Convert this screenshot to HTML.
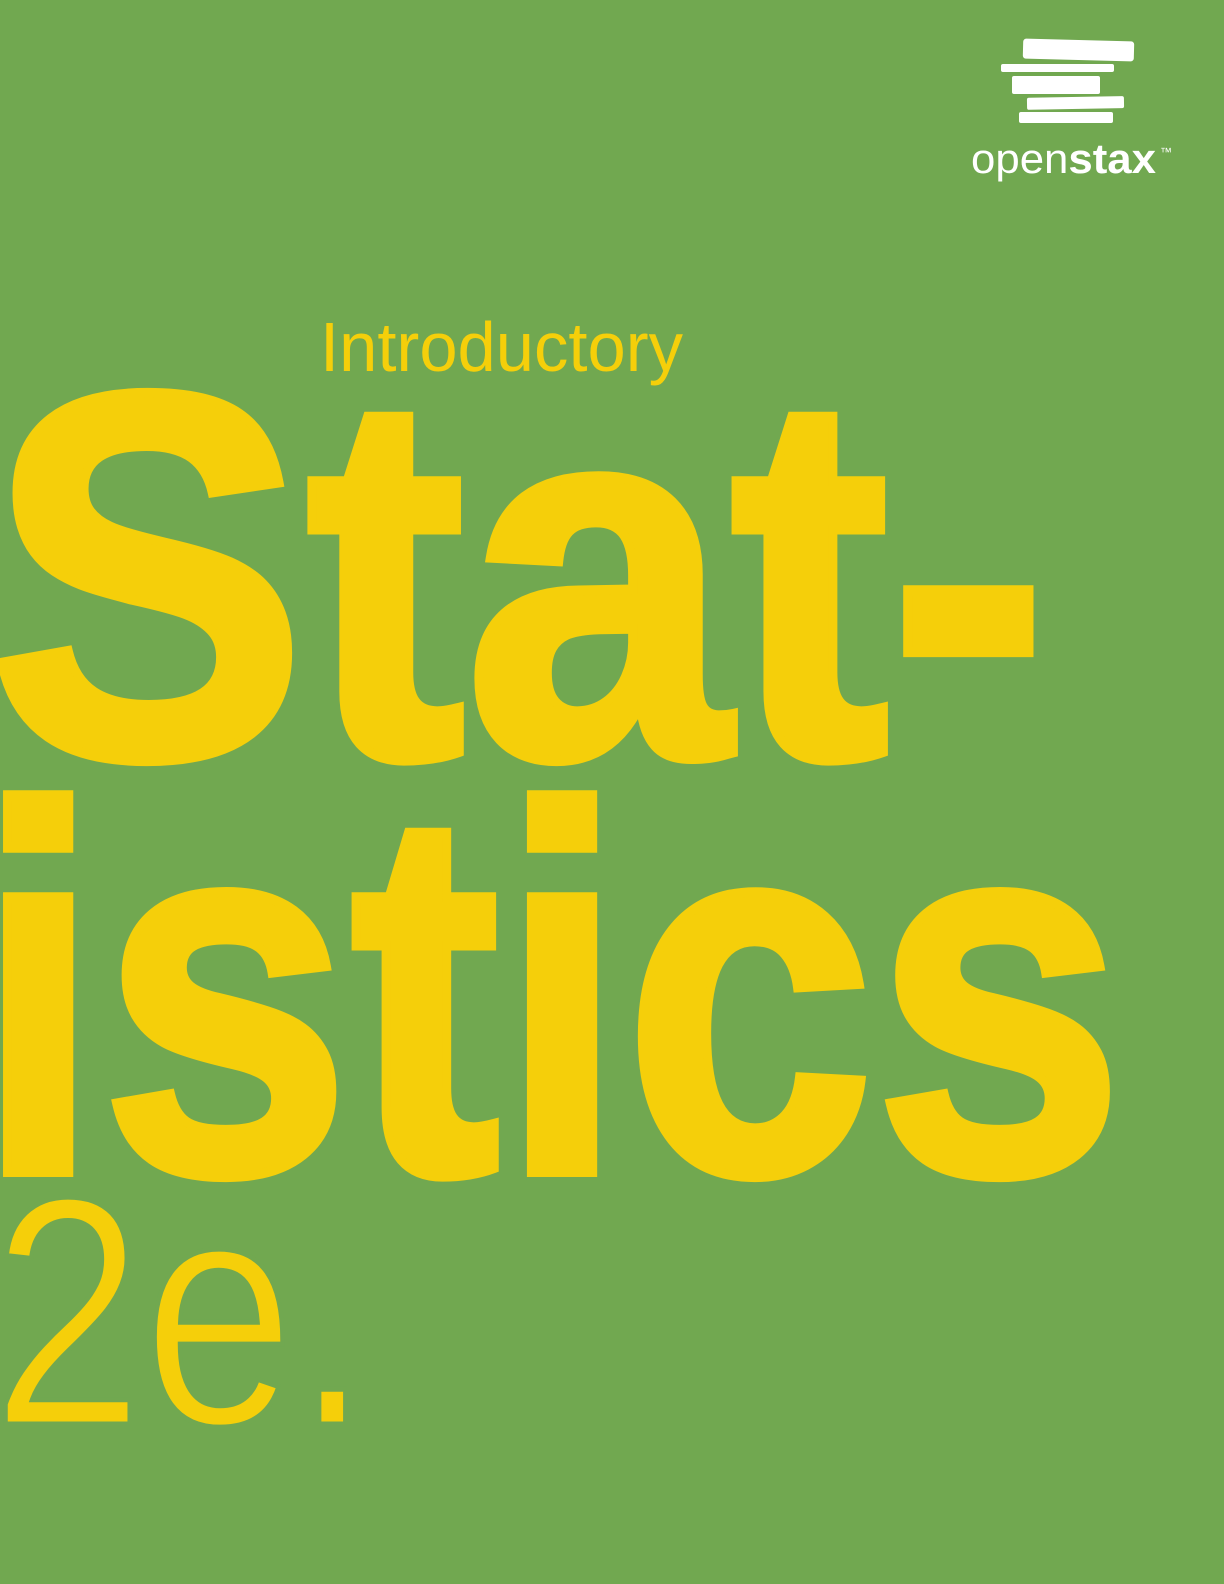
<!DOCTYPE html>
<html>
<head>
<meta charset="utf-8">
<style>
  html,body{margin:0;padding:0;background:#71a850;}
  svg{display:block;}
  text{font-family:"Liberation Sans",Arial,sans-serif;}
</style>
</head>
<body>
<svg width="1224" height="1584" viewBox="0 0 1224 1584">
  <rect x="0" y="0" width="1224" height="1584" fill="#71a850"/>

  <g>
    <g fill="#ffffff">
      <rect x="1023" y="40" width="111" height="20" rx="3" transform="rotate(1.5 1078 50)"/>
      <rect x="1001" y="64" width="113" height="8" rx="2"/>
      <rect x="1012" y="76" width="88" height="18" rx="2"/>
      <rect x="1027" y="97" width="97" height="12" rx="2" transform="rotate(-1 1075 103)"/>
      <rect x="1019" y="112" width="94" height="11" rx="2"/>
    </g>
    <text x="971" y="173" font-size="42" fill="#ffffff" textLength="185" lengthAdjust="spacingAndGlyphs"><tspan>open</tspan><tspan font-weight="bold">stax</tspan></text>
    <text x="1160" y="156" font-size="12" fill="#ffffff">™</text>
  </g>

  <g fill="#f5cf0a">
    <text x="320" y="371" font-size="70" textLength="363" lengthAdjust="spacingAndGlyphs">Introductory</text>
    <text x="-12" y="756" font-size="520" font-weight="bold" stroke="#f5cf0a" stroke-width="10" stroke-linejoin="miter" textLength="1060" lengthAdjust="spacingAndGlyphs">Stat-</text>
    <text x="-24" y="1172" font-size="520" font-weight="bold" stroke="#f5cf0a" stroke-width="10" stroke-linejoin="miter" textLength="1148" lengthAdjust="spacingAndGlyphs">istics</text>
    <text x="-8" y="1424" font-size="325" font-weight="normal" stroke="#71a850" stroke-width="5" textLength="378" lengthAdjust="spacingAndGlyphs">2e.</text>
  </g>
</svg>
</body>
</html>
